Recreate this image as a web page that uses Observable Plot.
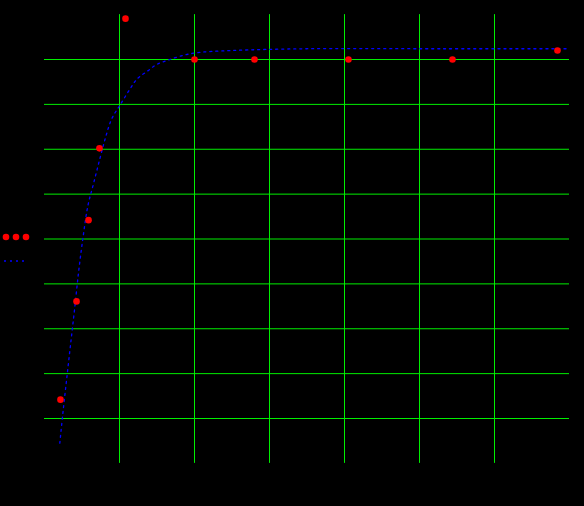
<!DOCTYPE html>
<html>
<head>
<meta charset="utf-8">
<script src="https://cdn.jsdelivr.net/npm/d3@7"></script>
<script src="https://cdn.jsdelivr.net/npm/@observablehq/plot@0.6"></script>
<style>
  html, body { margin: 0; padding: 0; background: #000; }
  #wrap { position: relative; width: 584px; height: 506px; background: #000; }
  #legend { position: absolute; left: 0; top: 228px; width: 40px; height: 40px; }
</style>
</head>
<body>
<div id="wrap">
  <div id="chart"></div>
  <svg id="legend" width="40" height="40"></svg>
</div>
<script>
// Measured points (red)
const pointX = [0.213, 0.427, 0.587, 0.733, 1.08, 2.0, 2.8, 4.053, 5.44, 6.84];
const pointY = [1.42, 3.61, 5.42, 7.02, 9.91, 9.0, 9.0, 9.0, 9.0, 9.2];

// Fitted curve (blue dotted)
const curveX = [0.204, 0.244, 0.297, 0.351, 0.404, 0.457, 0.511, 0.577, 0.653, 0.737, 0.817, 0.897, 1.013, 1.143, 1.236, 1.364, 1.497, 1.64, 1.8, 2.027, 2.5, 3.5, 5.0, 7.0];
const curveY = [0.45, 1.10, 1.90, 2.70, 3.48, 4.30, 5.00, 5.73, 6.23, 6.78, 7.28, 7.68, 8.00, 8.35, 8.57, 8.73, 8.89, 8.98, 9.07, 9.15, 9.20, 9.24, 9.24, 9.24];

// Grid tick positions
const xTicks = [1, 2, 3, 4, 5, 6];
const yTicks = [1, 2, 3, 4, 5, 6, 7, 8, 9];

const points = pointX.map((x, i) => ({x, y: pointY[i]}));
const curve = curveX.map((x, i) => ({x, y: curveY[i]}));

const chart = Plot.plot({
  width: 584,
  height: 506,
  marginLeft: 44,
  marginRight: 15,
  marginTop: 14.125,
  marginBottom: 43.125,
  style: {background: "#000"},
  x: {domain: [0, 7], axis: null},
  y: {domain: [0, 10], axis: null},
  marks: [
    Plot.gridX(xTicks, {stroke: "#00ee00", strokeOpacity: 1, strokeWidth: 1}),
    Plot.gridY(yTicks, {stroke: "#00ee00", strokeOpacity: 1, strokeWidth: 1}),
    Plot.line(curve, {x: "x", y: "y", stroke: "#0000ff", strokeWidth: 1.3, strokeDasharray: "2,4", curve: "catmull-rom"}),
    Plot.dot(points, {x: "x", y: "y", r: 3.3, fill: "#ff0000", stroke: "none"})
  ]
});
document.getElementById("chart").appendChild(chart);

// Legend swatches
const lg = d3.select("#legend");
[6, 16, 26].forEach(cx => lg.append("circle").attr("cx", cx).attr("cy", 9).attr("r", 3.3).attr("fill", "#ff0000"));
lg.append("line").attr("x1", 4).attr("x2", 25).attr("y1", 33).attr("y2", 33)
  .attr("stroke", "#0000ff").attr("stroke-width", 1.3).attr("stroke-dasharray", "2,4");
</script>
</body>
</html>
